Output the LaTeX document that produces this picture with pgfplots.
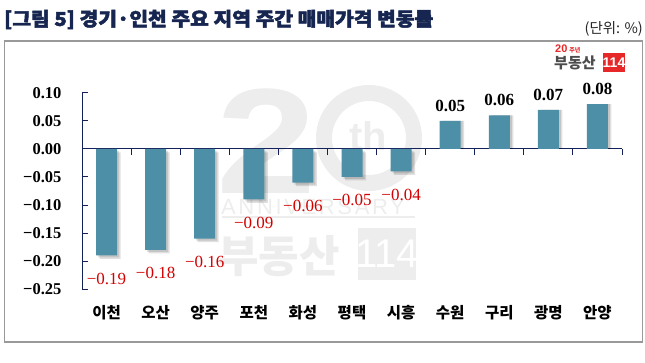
\documentclass[border=0pt]{standalone}
\usepackage{fontspec}
\setmainfont{Liberation Serif}
\newfontfamily\kr{Noto Sans CJK KR}
\newfontfamily\krt{Noto Sans CJK KR}[FakeBold=2.5]
\newfontfamily\wm{Liberation Sans}
\newfontfamily\wmsp{Liberation Sans}[LetterSpace=12]
\usepackage{pgfplots}
\pgfplotsset{compat=1.18}
\definecolor{barcol}{RGB}{78,143,168}
\definecolor{navy}{RGB}{22,38,80}
\definecolor{axcol}{RGB}{20,32,90}
\definecolor{negred}{RGB}{210,0,0}
\definecolor{wmgray}{RGB}{237,237,237}
\definecolor{logored}{RGB}{230,40,40}
\pgfplotstableread{
x y lab
0 -0.19 −0.19
1 -0.18 −0.18
2 -0.16 −0.16
3 -0.09 −0.09
4 -0.06 −0.06
5 -0.05 −0.05
6 -0.04 −0.04
}\negdata
\pgfplotstableread{
x y lab
7 0.05 0.05
8 0.06 0.06
9 0.07 0.07
10 0.08 0.08
}\posdata
\begin{document}
\begin{tikzpicture}[x=1pt,y=1pt]
\path[use as bounding box] (0,0) rectangle (645,362);
% title and unit
\node[anchor=west,inner sep=0,xscale=1.07,font=\krt\bfseries\fontsize{19}{21}\selectfont,text=navy] at (4,342.5) {[그림 5] 경기·인천 주요 지역 주간 매매가격 변동률};
\node[anchor=east,inner sep=0,font=\kr\fontsize{14.5}{16}\selectfont,text=black!85] at (643,333.5) {(단위: \%)};
% frame
\draw[gray!80,line width=1.2pt] (4.5,20) rectangle (642.5,321);
% watermark
\node[anchor=base west,inner sep=0,xscale=1.2,font=\wm\bfseries\fontsize{150}{150}\selectfont,text=wmgray] at (216,168) {2};
\draw[wmgray,line width=16pt] (369,224) circle[radius=45];
\node[inner sep=0,font=\wm\bfseries\fontsize{40}{40}\selectfont,text=wmgray] at (368,226) {th};
\node[anchor=west,inner sep=0,font=\wmsp\fontsize{22}{22}\selectfont,text=wmgray] at (221,155) {ANNIVERSARY};
\draw[wmgray,line width=1.2pt] (222,145) -- (415,145);
\node[anchor=west,inner sep=0,font=\kr\bfseries\fontsize{44}{44}\selectfont,text=wmgray] at (218,106) {부동산};
\fill[wmgray] (358,82) rectangle (416,134);
\node[inner sep=0,font=\wm\fontsize{40}{40}\selectfont,text=white] at (387,108) {114};
% logo
\node[anchor=west,inner sep=0,font=\wm\bfseries\fontsize{11}{11}\selectfont,text=logored] at (555,313) {20\,{\kr\fontsize{6}{6}\selectfont 주년}};
\node[anchor=west,inner sep=0,font=\kr\bfseries\fontsize{15}{15}\selectfont,text=black!70] at (554,299.5) {부동산};
\fill[logored] (603,290) rectangle (625,309);
\node[inner sep=0,font=\wm\bfseries\fontsize{14}{14}\selectfont,text=white] at (614,299.5) {114};
\begin{axis}[
  at={(82pt,73pt)}, anchor=south west,
  scale only axis, width=540pt, height=196pt,
  xmin=-0.5, xmax=10.5, ymin=-0.25, ymax=0.10,
  axis x line=middle, axis y line=left,
  axis line style={-, draw=axcol, line width=1pt},
  clip=false,
  ytick={-0.25,-0.20,-0.15,-0.10,-0.05,0,0.05,0.10},
  yticklabels={−0.25,−0.20,−0.15,−0.10,−0.05,0.00,0.05,0.10},
  ytick align=inside, xtick align=inside,
  major tick length=6pt,
  tick style={draw=axcol, line width=1pt},
  yticklabel style={font=\bfseries\fontsize{16.5}{18}\selectfont, anchor=east, xshift=-17pt},
  xtick={0.5,1.5,...,10.5}, xticklabels={},
  extra x ticks={0,1,...,10},
  extra x tick labels={이천,오산,양주,포천,화성,평택,시흥,수원,구리,광명,안양},
  extra x tick style={tick style={draw=none}, xticklabel style={font=\kr\bfseries\fontsize{15.5}{17}\selectfont, anchor=center, yshift=-158pt}},
  ybar, bar width=21pt, bar shift=0pt,
]
\addplot[fill=black, opacity=0.12, draw=none, xshift=2pt, yshift=-2pt, forget plot] table[x=x,y=y] {\negdata};
\addplot[fill=black, opacity=0.12, draw=none, xshift=3.5pt, yshift=-3.5pt, forget plot] table[x=x,y=y] {\negdata};
\addplot[fill=black, opacity=0.12, draw=none, xshift=2pt, yshift=0pt, forget plot] table[x=x,y=y] {\posdata};
\addplot[fill=black, opacity=0.12, draw=none, xshift=3.5pt, yshift=0pt, forget plot] table[x=x,y=y] {\posdata};
\addplot[fill=barcol, draw=none,
  nodes near coords, point meta=explicit symbolic,
  every node near coord/.append style={font=\fontsize{17}{18}\selectfont, text=negred, anchor=north, yshift=-14pt}]
  table[x=x, y=y, meta=lab] {\negdata};
\addplot[fill=barcol, draw=none,
  nodes near coords, point meta=explicit symbolic,
  every node near coord/.append style={font=\bfseries\fontsize{17}{18}\selectfont, text=black, anchor=south, yshift=6pt}]
  table[x=x, y=y, meta=lab] {\posdata};
\end{axis}
\end{tikzpicture}
\end{document}
